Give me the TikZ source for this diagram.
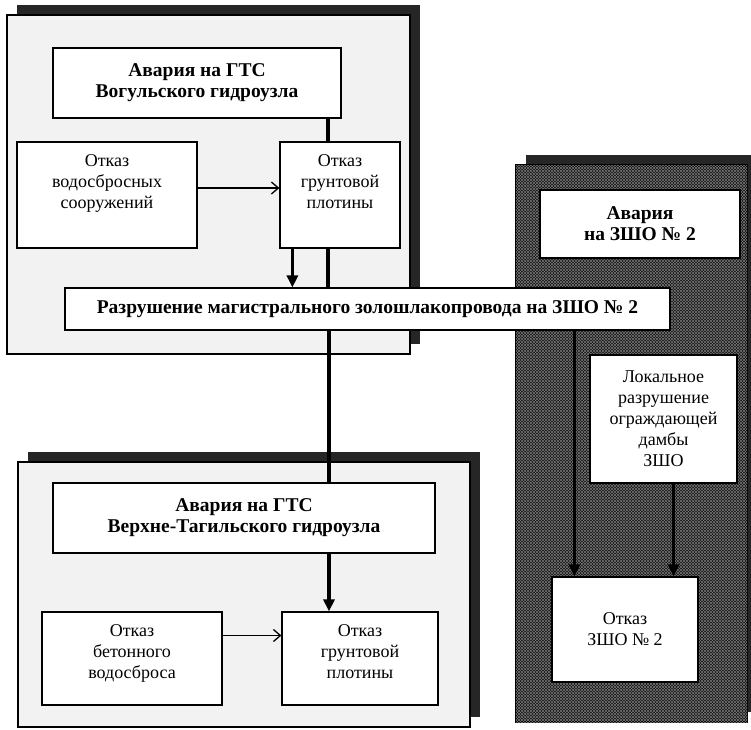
\documentclass[tikz,border=0pt]{standalone}
\usepackage{fontspec}
\setmainfont{Liberation Serif}
\usetikzlibrary{arrows.meta,patterns,shadows}

\tikzset{
  box/.style={draw, line width=1.2pt, fill=white, align=center, inner sep=2pt},
  heading/.style={box, font=\bfseries\fontsize{19.5}{21}\selectfont},
  cause/.style={box, font=\fontsize{18}{21}\selectfont},
  heavy/.style={line width=3.5pt},
  heavyarrow/.style={line width=3.5pt, -{Triangle[length=12pt,width=11pt]}},
  thinarrow/.style={line width=1.3pt, -{Straight Barb[length=7pt,width=12pt]}},
  panelshadow/.style={general shadow={fill=black!85, shadow xshift=10pt, shadow yshift=10pt}},
  lightpanel/.style={draw, line width=1.2pt, fill=black!5, panelshadow},
  darkpanel/.style={draw, line width=1.2pt, fill=black!92, panelshadow,
    postaction={pattern=north east lines, pattern color=black!55},
    postaction={pattern=north west lines, pattern color=black!55}}
}

\begin{document}
\begin{tikzpicture}[x=1pt, y=-1pt]
			\useasboundingbox (0,0) rectangle (751,729);
			
			% Panels
			\node[lightpanel, minimum width=403pt, minimum height=339pt] (panV) at (208.5,184.5) {};
			\node[lightpanel, minimum width=452pt, minimum height=265pt] (panT) at (244,594.5) {};
			\node[darkpanel, minimum width=231pt, minimum height=557pt] (panZ) at (631.5,443.5) {};
			
			% Vogulka
			\node[heading, minimum width=288pt, minimum height=70pt] (avV) at (197,83) {Авария на ГТС\\Вогульского гидроузла};
			\node[cause, minimum width=180pt, minimum height=106pt] (otkWV) at (107,195) {Отказ\\водосбросных\\сооружений\\[6pt]\mbox{}};
			\node[cause, minimum width=120pt, minimum height=106pt] (otkGV) at (340,195) {Отказ\\грунтовой\\плотины\\[6pt]\mbox{}};
			
			% Pipeline
			\node[heading, minimum width=605pt, minimum height=42pt] (bar) at (367.5,309) {Разрушение магистрального золошлакопровода на ЗШО № 2};
			
			% Verkhne-Tagilsky
			\node[heading, minimum width=382pt, minimum height=70pt] (avT) at (244,518) {Авария на ГТС\\Верхне-Тагильского гидроузла};
			\node[cause, minimum width=180pt, minimum height=93pt] (otkBT) at (132,658.5) {Отказ\\бетонного\\водосброса\\[-8pt]\mbox{}};
			\node[cause, minimum width=156pt, minimum height=93pt] (otkGT) at (360,658.5) {Отказ\\грунтовой\\плотины\\[-8pt]\mbox{}};
			
			% ZShO
			\node[heading, minimum width=200pt, minimum height=68pt] (avZ) at (640,224) {Авария\\на ЗШО № 2};
			\node[cause, minimum width=147pt, minimum height=128pt] (lok) at (663.5,419) {Локальное\\разрушение\\ограждающей\\дамбы\\ЗШО};
			\node[cause, minimum width=146pt, minimum height=105pt] (otkZ) at (625,629.5) {Отказ\\ЗШО № 2};
			
			% Connections
			\draw[heavy] ([xshift=-12pt]otkGV.north |- avV.south) -- ([xshift=-12pt]otkGV.north);
			\draw[thinarrow] ([yshift=7pt]otkWV.east) -- ([yshift=7pt]otkGV.west);
			\draw[heavyarrow] ([xshift=13pt]otkGV.south west) -- ([xshift=13pt]otkGV.south west |- bar.north);
			\draw[heavy] ([xshift=-12pt]otkGV.south) -- ([xshift=-12pt]otkGV.south |- bar.north);
			\draw[heavy] ([xshift=-31pt]otkGT.north |- bar.south) -- ([xshift=-31pt]otkGT.north |- avT.north);
			\draw[heavyarrow] ([xshift=-31pt]otkGT.north |- avT.south) -- ([xshift=-31pt]otkGT.north);
			\draw[thinarrow] ([yshift=23pt]otkBT.east) -- ([yshift=23pt]otkGT.west);
			\draw[heavyarrow] ([xshift=23pt]otkZ.north west |- bar.south) -- ([xshift=23pt]otkZ.north west);
			\draw[heavyarrow] ([xshift=-25pt]otkZ.north east |- lok.south) -- ([xshift=-25pt]otkZ.north east);
		\end{tikzpicture}
\end{document}
